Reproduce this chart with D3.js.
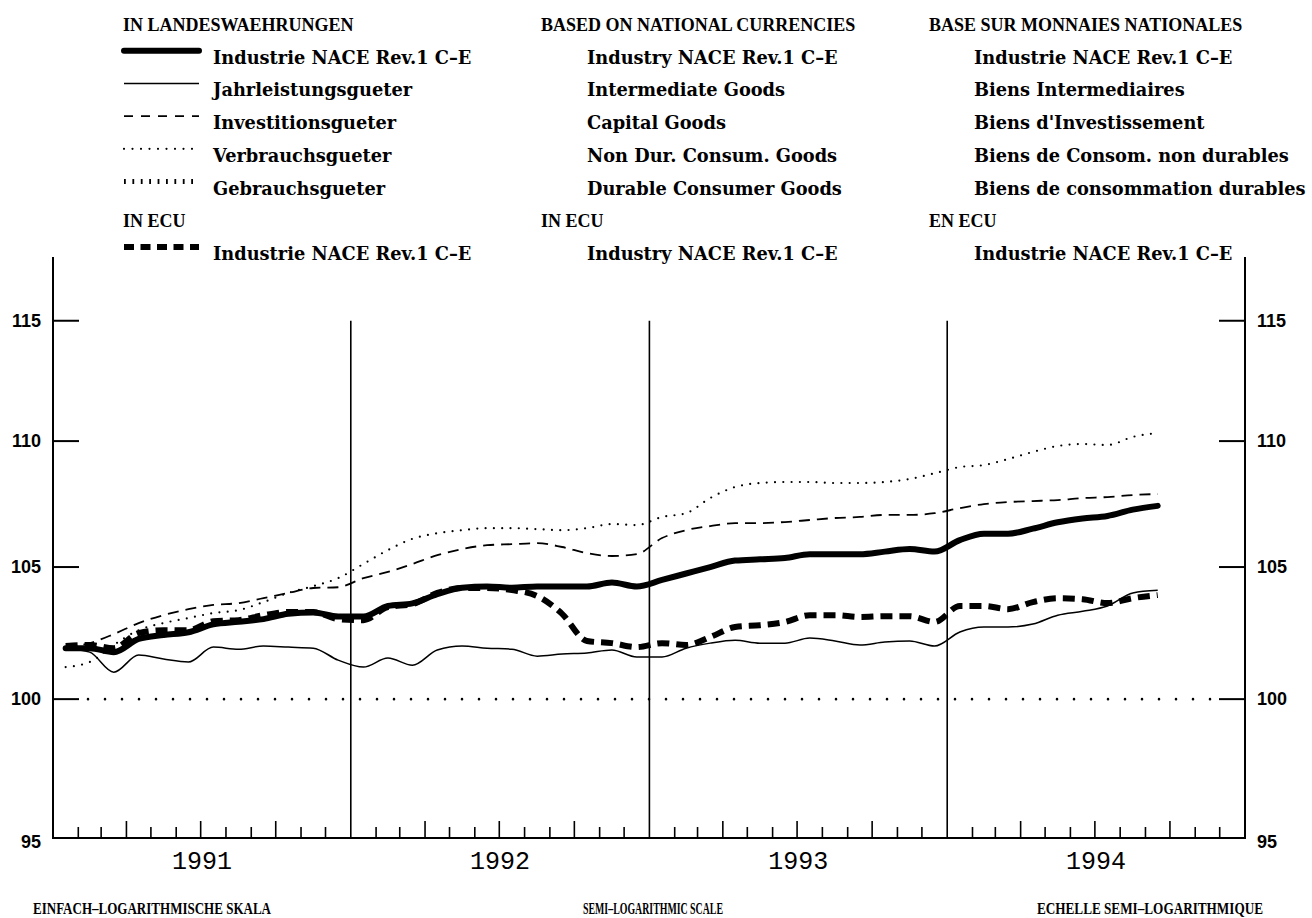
<!DOCTYPE html>
<html><head><meta charset="utf-8">
<script src="https://cdn.jsdelivr.net/npm/d3@7"></script>
<style>body{margin:0;background:#fff}svg{display:block}</style>
</head><body>
<svg id="c" width="1312" height="918"></svg>
<script>
// ---------- DATA ----------
const firstMonth = [1991, 0];           // January 1991, monthly data
const yearLabels = ["1991", "1992", "1993", "1994"];
const yTicks = [95, 100, 105, 110, 115];

const industrie = [101.9,101.9,101.75,102.25,102.4,102.5,102.8,102.9,103.0,103.2,103.25,103.1,
  103.1,103.5,103.6,103.95,104.2,104.25,104.2,104.25,104.25,104.25,104.4,104.25,
  104.5,104.75,105.0,105.25,105.3,105.35,105.5,105.5,105.5,105.6,105.7,105.6,
  106.05,106.3,106.3,106.5,106.75,106.9,107.0,107.25,107.4];
const jahrleistung = [101.9,101.75,101.0,101.64,101.49,101.38,101.94,101.86,101.98,101.94,101.9,101.45,
  101.19,101.53,101.26,101.83,101.98,101.9,101.86,101.6,101.68,101.72,101.83,101.57,
  101.57,101.9,102.09,102.2,102.09,102.09,102.28,102.17,102.02,102.13,102.17,101.98,
  102.51,102.7,102.7,102.81,103.15,103.3,103.5,104.0,104.1];
const investition = [101.94,102.09,102.43,102.85,103.15,103.38,103.54,103.61,103.8,104.0,104.19,104.22,
  104.57,104.81,105.12,105.46,105.7,105.85,105.89,105.93,105.78,105.54,105.43,105.5,
  106.13,106.44,106.6,106.72,106.72,106.76,106.84,106.92,106.96,107.04,107.04,107.11,
  107.31,107.47,107.55,107.59,107.63,107.71,107.75,107.83,107.87];
const verbrauch = [101.19,101.38,102.02,102.58,102.85,103.04,103.23,103.34,103.65,104.0,104.26,104.57,
  105.12,105.66,106.1,106.32,106.44,106.52,106.52,106.48,106.44,106.52,106.68,106.64,
  106.96,107.11,107.71,108.15,108.31,108.35,108.35,108.31,108.31,108.35,108.47,108.7,
  108.95,109.03,109.27,109.56,109.8,109.88,109.84,110.17,110.33];
const gebrauch = [];   // not plotted in the reference
const industrieEcu = [101.98,102.02,101.9,102.47,102.58,102.58,102.92,102.96,103.15,103.27,103.27,103.0,
  102.96,103.46,103.57,104.0,104.19,104.19,104.11,103.88,103.2,102.17,102.09,101.94,
  102.09,102.02,102.32,102.7,102.77,102.89,103.15,103.15,103.08,103.11,103.11,102.89,
  103.5,103.5,103.38,103.65,103.8,103.76,103.61,103.8,103.92];

const headersDE = ["IN LANDESWAEHRUNGEN", "IN ECU"];
const headersEN = ["BASED ON NATIONAL CURRENCIES", "IN ECU"];
const headersFR = ["BASE SUR MONNAIES NATIONALES", "EN ECU"];
const labelsDE = ["Industrie NACE Rev.1 C–E","Jahrleistungsgueter","Investitionsgueter","Verbrauchsgueter","Gebrauchsgueter","Industrie NACE Rev.1 C–E"];
const labelsEN = ["Industry NACE Rev.1 C–E","Intermediate Goods","Capital Goods","Non Dur. Consum. Goods","Durable Consumer Goods","Industry NACE Rev.1 C–E"];
const labelsFR = ["Industrie NACE Rev.1 C–E","Biens Intermediaires","Biens d'Investissement","Biens de Consom. non durables","Biens de consommation durables","Industrie NACE Rev.1 C–E"];
const footers = ["EINFACH–LOGARITHMISCHE SKALA", "SEMI–LOGARITHMIC SCALE", "ECHELLE SEMI–LOGARITHMIQUE"];

// ---------- STYLES ----------
const series = [
  {values: industrie,    w: 6,   dash: null,    cap: "round", legendDash: null},
  {values: jahrleistung, w: 1.5, dash: null,    cap: "butt",  legendDash: null},
  {values: investition,  w: 1.8, dash: "11,7",  cap: "butt",  legendDash: "9,8"},
  {values: verbrauch,    w: 2.2, dash: "0,8.3", cap: "round", legendDash: "0,8.5"},
  {values: gebrauch,     w: 5,   dash: "1.8,6.6", cap: "butt", legendDash: "1.8,6.6"},
  {values: industrieEcu, w: 6,   dash: "12,7",  cap: "butt",  legendDash: "10,6.5"}
];

const svg = d3.select("#c");
const L = 53, R = 1245, B = 838, T = 257;
const x = d3.scaleTime().domain([new Date(1991,0,1), new Date(1995,0,1)]).range([L, R]);
const y = d3.scaleLog().domain([95, 117.74]).range([B, T]);
const monthMid = i => {
  const a = new Date(firstMonth[0], firstMonth[1] + i, 1), b = new Date(firstMonth[0], firstMonth[1] + i + 1, 1);
  return (x(a) + x(b)) / 2;
};

// ---------- AXES ----------
const g = svg.append("g").attr("stroke", "#000").attr("fill", "none");
g.append("path").attr("d", `M${L},${T}V${B}H${R}V${T}`).attr("stroke-width", 2);
yTicks.filter(v => v > 95).forEach(v => {
  g.append("line").attr("x1", L).attr("x2", L + 26).attr("y1", y(v)).attr("y2", y(v)).attr("stroke-width", 2);
  g.append("line").attr("x1", R - 26).attr("x2", R).attr("y1", y(v)).attr("y2", y(v)).attr("stroke-width", 2);
});
d3.timeMonth.range(new Date(1991,1,1), new Date(1995,0,1)).forEach(d => {
  const m = d.getMonth();
  if (m === 0) {
    g.append("line").attr("x1", x(d)).attr("x2", x(d)).attr("y1", y(115)).attr("y2", B).attr("stroke-width", 1.6);
  } else {
    const h = (m % 3 === 0) ? 17 : 11;
    g.append("line").attr("x1", x(d)).attr("x2", x(d)).attr("y1", B - h).attr("y2", B).attr("stroke-width", 1.6);
  }
});
g.append("line").attr("x1", L + 35).attr("x2", R - 26).attr("y1", y(100)).attr("y2", y(100))
  .attr("stroke-width", 2.6).attr("stroke-linecap", "round").attr("stroke-dasharray", "0,17");

const tl = svg.append("g").attr("font-family", "Liberation Sans, Arial, sans-serif").attr("font-weight", "bold").attr("font-size", 18).attr("fill", "#000");
yTicks.forEach(v => {
  const yy = y(v) + (v === 95 ? 4 : 0);
  tl.append("text").attr("x", 41).attr("y", yy).attr("dy", "0.35em").attr("text-anchor", "end").text(v);
  tl.append("text").attr("x", 1257).attr("y", yy).attr("dy", "0.35em").attr("text-anchor", "start").text(v);
});
const yl = svg.append("g").attr("font-family", "Liberation Mono, Courier New, monospace").attr("font-size", 25).attr("fill", "#000");
yearLabels.forEach(t => {
  const a = x(new Date(+t, 0, 1)), b = x(new Date(+t + 1, 0, 1));
  yl.append("text").attr("x", (a + b) / 2).attr("y", 869).attr("text-anchor", "middle").text(t);
});

// ---------- LINES ----------
const lines = svg.append("g").attr("fill", "none").attr("stroke", "#000");
series.forEach(s => {
  if (!s.values.length) return;
  const line = d3.line().x((d, i) => monthMid(i)).y(d => y(d)).curve(d3.curveMonotoneX);
  const p = lines.append("path").attr("d", line(s.values)).attr("stroke-width", s.w)
    .attr("stroke-linecap", s.cap).attr("stroke-linejoin", "round");
  if (s.dash) p.attr("stroke-dasharray", s.dash);
});

// ---------- LEGEND ----------
const rowBase = i => 31 + 32.7 * i;
const lg = svg.append("g").attr("fill", "#000");
const headerFont = sel => sel.attr("font-family", "Liberation Serif, Times New Roman, serif").attr("font-weight", "bold").attr("font-size", 18);
const itemFont = sel => sel.attr("font-family", "DejaVu Serif, serif").attr("font-weight", "bold").attr("font-size", 17.8);
const cols = [
  {hx: 123, ix: 213, headers: headersDE, labels: labelsDE, samples: true},
  {hx: 541, ix: 587, headers: headersEN, labels: labelsEN},
  {hx: 929, ix: 974, headers: headersFR, labels: labelsFR}
];
const rowOf = [1, 2, 3, 4, 5, 7];
cols.forEach(c => {
  lg.append("text").attr("x", c.hx).attr("y", rowBase(0)).text(c.headers[0]).call(headerFont);
  lg.append("text").attr("x", c.hx).attr("y", rowBase(6)).text(c.headers[1]).call(headerFont);
  c.labels.forEach((t, k) => {
    lg.append("text").attr("x", c.ix).attr("y", rowBase(rowOf[k])).text(t).call(itemFont);
  });
  if (c.samples) {
    series.forEach((s, k) => {
      const yy = rowBase(rowOf[k]) - 13;
      const ln = lg.append("line").attr("x1", 124).attr("x2", 199).attr("y1", yy).attr("y2", yy)
        .attr("stroke", "#000").attr("stroke-width", s.w).attr("stroke-linecap", s.cap);
      if (s.legendDash) ln.attr("stroke-dasharray", s.legendDash);
    });
  }
});

// ---------- FOOTERS ----------
const ft = svg.append("g").attr("font-family", "Liberation Serif, Times New Roman, serif").attr("font-weight", "bold").attr("font-size", 16).attr("fill", "#000");
ft.append("text").attr("x", 33).attr("y", 914).attr("textLength", 238).attr("lengthAdjust", "spacingAndGlyphs").text(footers[0]);
ft.append("text").attr("x", 583).attr("y", 914).attr("textLength", 140).attr("lengthAdjust", "spacingAndGlyphs").text(footers[1]);
ft.append("text").attr("x", 1037).attr("y", 914).attr("textLength", 226).attr("lengthAdjust", "spacingAndGlyphs").text(footers[2]);
</script>
</body></html>
